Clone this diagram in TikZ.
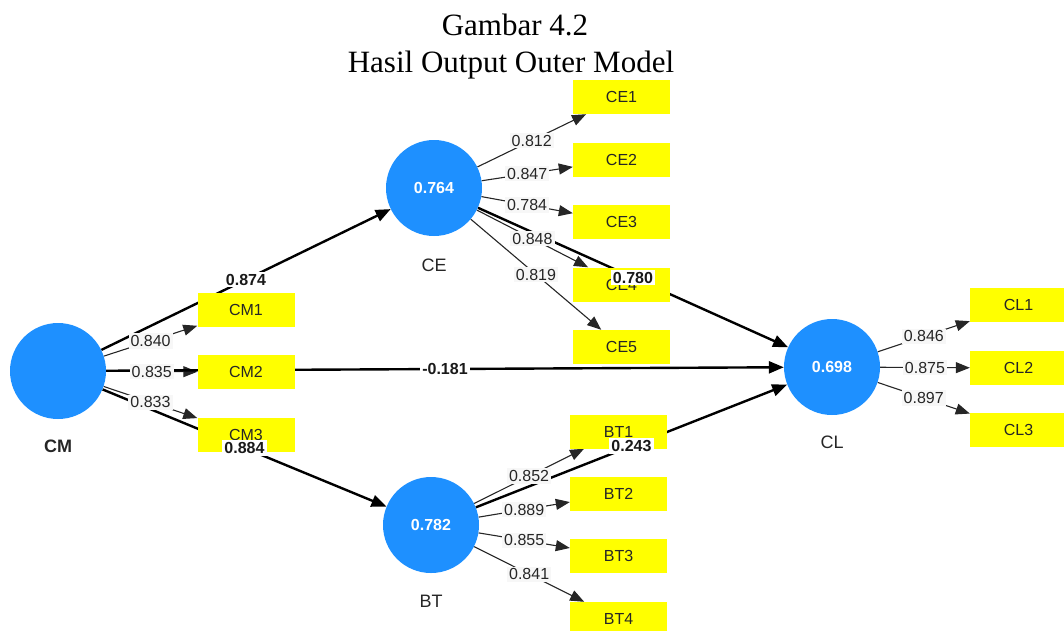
\documentclass[tikz,border=0pt]{standalone}
\usepackage{fontspec}
\setmainfont{Liberation Serif}
\newfontfamily\arialf{Liberation Sans}
\usetikzlibrary{arrows.meta}
\definecolor{latent}{RGB}{30,144,255}
\definecolor{indyellow}{RGB}{255,255,0}
\pgfdeclarelayer{bg}
\pgfsetlayers{bg,main}
\begin{document}
\begin{tikzpicture}[x=1pt,y=-1pt,
  latentnode/.style={circle, fill=latent, minimum size=96pt, inner sep=0pt, text=white,
    font=\arialf\bfseries\fontsize{16}{19}\selectfont},
  indbox/.style={rectangle, fill=indyellow, minimum width=97pt, minimum height=34pt, inner sep=0pt,
    font=\arialf\fontsize{16}{19}\selectfont, text=black!85},
  loadline/.style={line width=1.1pt, black!85, -{Triangle[length=14pt,width=11pt]}},
  pathline/.style={line width=2.4pt, black, -{Triangle[length=15pt,width=12pt]}},
  loadlabel/.style={fill=black!3, inner sep=2pt, font=\arialf\fontsize{16}{19}\selectfont, text=black!85},
  pathlabel/.style={fill=white, inner sep=2pt, font=\arialf\bfseries\fontsize{16}{19}\selectfont, text=black!90},
  lvname/.style={font=\arialf\fontsize{18}{21}\selectfont, text=black!85},
  titletext/.style={font=\fontsize{31}{37}\selectfont, anchor=base},
]
\useasboundingbox (0,0) rectangle (1064,630);
\clip (0,0) rectangle (1064,630);

% title
\node[titletext] (t1) at (515,35) {Gambar 4.2};
\node[titletext] (t2) at (511,72) {Hasil Output Outer Model};

% latent variables
\node[latentnode] (CM) at (58,371) {};
\node[latentnode] (CE) at (434,188) {0.764};
\node[latentnode] (BT) at (431,525) {0.782};
\node[latentnode] (CL) at (832,367) {0.698};
\node[lvname, font=\arialf\bfseries\fontsize{18}{21}\selectfont] (CMn) at (58,446) {CM};
\node[lvname] (CEn) at (434,265) {CE};
\node[lvname] (BTn) at (431,601) {BT};
\node[lvname] (CLn) at (832,442) {CL};

% indicators
\node[indbox] (CM1) at (246,310) {CM1};
\node[indbox] (CM2) at (246,372) {CM2};
\node[indbox] (CM3) at (246,434.5) {CM3};
\node[indbox] (CE1) at (621.5,97) {CE1};
\node[indbox] (CE2) at (621.5,159.5) {CE2};
\node[indbox] (CE3) at (621.5,222) {CE3};
\node[indbox] (CE4) at (621.5,284.5) {CE4};
\node[indbox] (CE5) at (621.5,347) {CE5};
\node[indbox] (BT1) at (618.5,431.5) {BT1};
\node[indbox] (BT2) at (618.5,494) {BT2};
\node[indbox] (BT3) at (618.5,556) {BT3};
\node[indbox] (BT4) at (618.5,619) {BT4};
\node[indbox] (CL1) at (1018.5,305) {CL1};
\node[indbox] (CL2) at (1018.5,368) {CL2};
\node[indbox] (CL3) at (1018.5,430) {CL3};

% connectors (under the boxes)
\begin{pgfonlayer}{bg}
\draw[loadline] (CM) -- coordinate[midway] (lcm1) (CM1);
\draw[loadline] (CM) -- coordinate[midway] (lcm2) (CM2);
\draw[loadline] (CM) -- coordinate[midway] (lcm3) (CM3);
\draw[loadline] (CE) -- coordinate[midway] (lce1) (CE1);
\draw[loadline] (CE) -- coordinate[midway] (lce2) (CE2);
\draw[loadline] (CE) -- coordinate[midway] (lce3) (CE3);
\draw[loadline] (CE) -- coordinate[midway] (lce4) (CE4);
\draw[loadline] (CE) -- coordinate[midway] (lce5) (CE5);
\draw[loadline] (BT) -- coordinate[midway] (lbt1) (BT1);
\draw[loadline] (BT) -- coordinate[midway] (lbt2) (BT2);
\draw[loadline] (BT) -- coordinate[midway] (lbt3) (BT3);
\draw[loadline] (BT) -- coordinate[midway] (lbt4) (BT4);
\draw[loadline] (CL) -- coordinate[midway] (lcl1) (CL1);
\draw[loadline] (CL) -- coordinate[midway] (lcl2) (CL2);
\draw[loadline] (CL) -- coordinate[midway] (lcl3) (CL3);
\draw[pathline] (CM) -- coordinate[midway] (pcmce) (CE);
\draw[pathline] (CM) -- coordinate[midway] (pcmbt) (BT);
\draw[pathline] (CM) -- coordinate[midway] (pcmcl) (CL);
\draw[pathline] (CE) -- coordinate[midway] (pcecl) (CL);
\draw[pathline] (BT) -- coordinate[midway] (pbtcl) (CL);
\end{pgfonlayer}

% loading labels
\node[loadlabel] (Lcm1) at (lcm1) {0.840};
\node[loadlabel] (Lcm2) at (lcm2) {0.835};
\node[loadlabel] (Lcm3) at (lcm3) {0.833};
\node[loadlabel] (Lce1) at (lce1) {0.812};
\node[loadlabel] (Lce2) at (lce2) {0.847};
\node[loadlabel] (Lce3) at (lce3) {0.784};
\node[loadlabel] (Lce4) at (lce4) {0.848};
\node[loadlabel] (Lce5) at (lce5) {0.819};
\node[loadlabel] (Lbt1) at (lbt1) {0.852};
\node[loadlabel] (Lbt2) at (lbt2) {0.889};
\node[loadlabel] (Lbt3) at (lbt3) {0.855};
\node[loadlabel] (Lbt4) at (lbt4) {0.841};
\node[loadlabel] (Lcl1) at (lcl1) {0.846};
\node[loadlabel] (Lcl2) at (lcl2) {0.875};
\node[loadlabel] (Lcl3) at (lcl3) {0.897};

% path coefficient labels
\node[pathlabel] (Pcmce) at (pcmce) {0.874};
\node[pathlabel] (Pcmbt) at (pcmbt) {0.884};
\node[pathlabel] (Pcmcl) at (pcmcl) {-0.181};
\node[pathlabel] (Pcecl) at (pcecl) {0.780};
\node[pathlabel] (Pbtcl) at (pbtcl) {0.243};
\end{tikzpicture}
\end{document}
